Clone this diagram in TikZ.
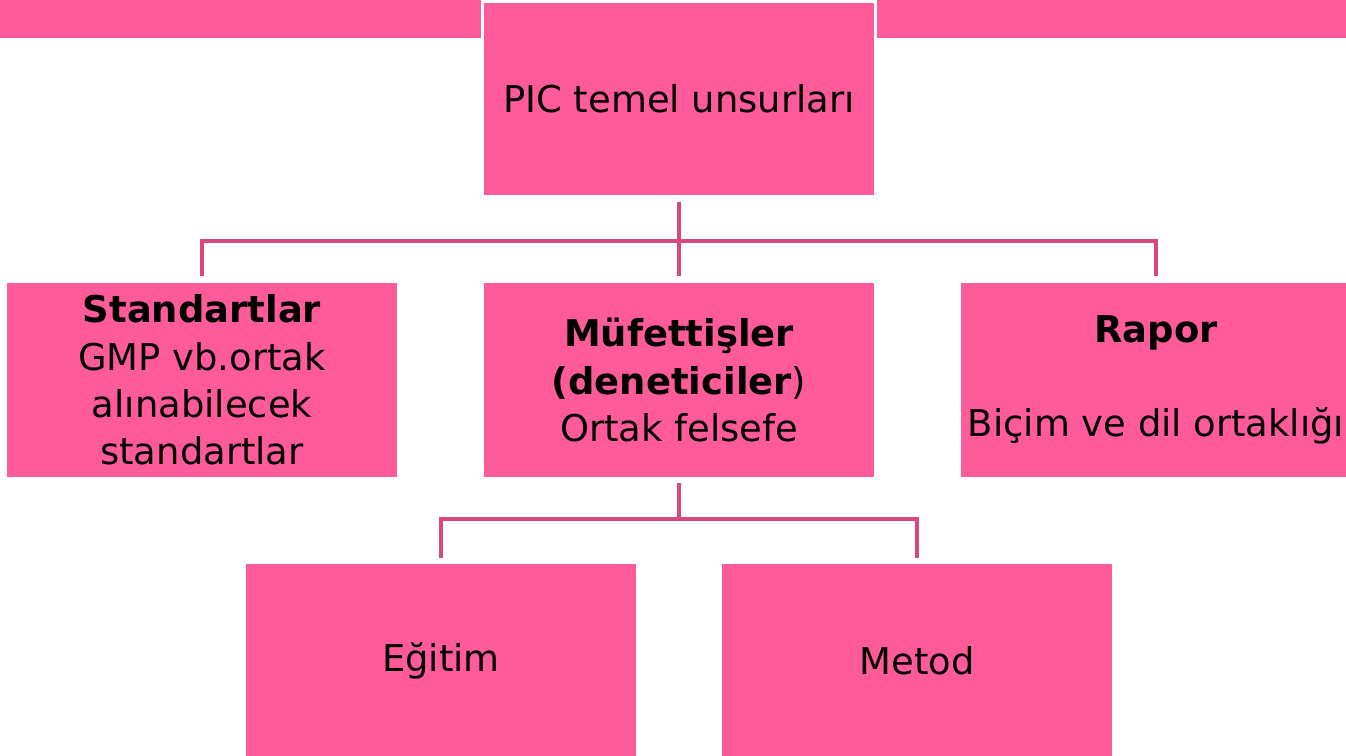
\documentclass[tikz,border=0pt]{standalone}
\usepackage{fontspec}
\setmainfont{DejaVu Sans}
\usetikzlibrary{positioning}
\definecolor{boxpink}{HTML}{FF5A9A}
\definecolor{linepink}{HTML}{D9477F}
\tikzset{
  unit/.style={draw=none, fill=boxpink, minimum width=7.8cm, minimum height=3.9cm,
    inner sep=0pt, align=center, font=\fontsize{21}{26.9}\selectfont},
  conn/.style={draw=linepink, line width=0.07cm},
}

\begin{document}
\begin{tikzpicture}[x=0.02cm, y=-0.02cm]
            \useasboundingbox (0,0) rectangle (1346,756);
            % top band
            \fill[boxpink] (0,0) rectangle (1346,38);

            \node[unit, draw=white, line width=0.06cm, minimum width=7.88cm, minimum height=3.92cm] (pic) at (679,99) {\raisebox{-0.08cm}{PIC temel unsurları}};

            \node[unit] (std) at (202,380) {\textbf{Standartlar}\\GMP vb.ortak\\alınabilecek\\standartlar};
            \node[unit] (muf) at (679,380) {\textbf{Müfettişler}\\\textbf{(deneticiler})\\Ortak felsefe};
            \node[unit] (rpr) at (1156,380) {\textbf{Rapor}\\[26.9pt]Biçim ve dil ortaklığı};

            \node[unit] (egt) at (441,661) {\raisebox{-0.08cm}{Eğitim}};
            \node[unit] (mtd) at (917,661) {\raisebox{-0.04cm}{Metod}};

            \coordinate (split1) at (679,241);
            \coordinate (split2) at (679,519);

            % connectors
            \draw[conn, shorten <=0.08cm] (pic.south) -- (split1);
            \draw[conn, shorten <=0.12cm] (muf.north) -- (split1);
            \draw[conn, shorten <=0.12cm, shorten >=0.12cm] (std.north) |- (split1) -| (rpr.north);
            \draw[conn, shorten <=0.1cm] (muf.south) -- (split2);
            \draw[conn, shorten <=0.1cm, shorten >=0.1cm] (egt.north) |- (split2) -| (mtd.north);
        \end{tikzpicture}
\end{document}
